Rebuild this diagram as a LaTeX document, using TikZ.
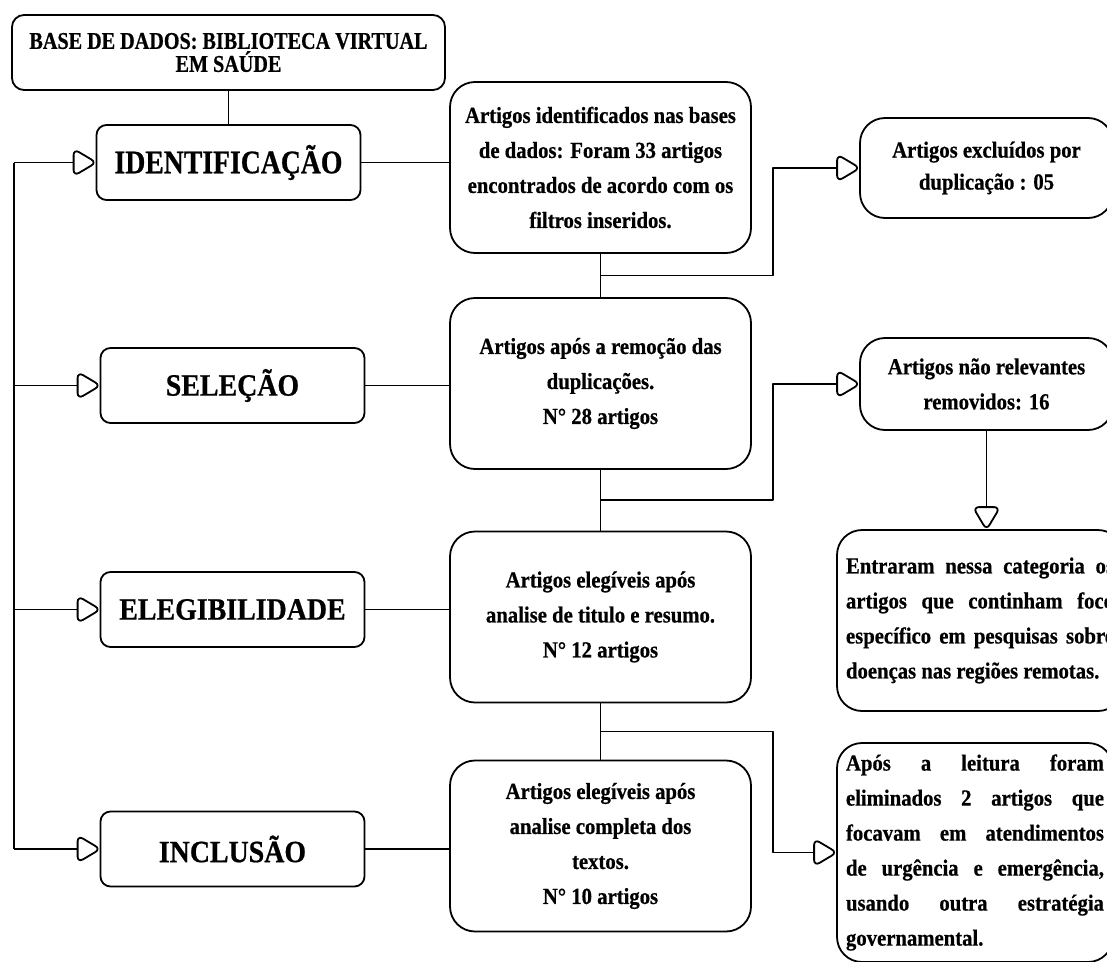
\documentclass[tikz,border=0pt]{standalone}
\usepackage{fontspec}
\usetikzlibrary{arrows.meta}
\newfontfamily\narrowfont{Liberation Serif}[FakeStretch=0.9, FakeBold=0.6]
\newfontfamily\tightfont{Liberation Serif}[FakeStretch=0.84, FakeBold=0.6]
\hyphenpenalty=10000
\tolerance=10000
\hbadness=10000

\pgfdeclarearrow{
  name = Bubble,
  parameters = {\the\pgfarrowlength,\the\pgfarrowwidth},
  setup code = {
    \pgfarrowssettipend{\pgfarrowlength}
    \pgfarrowssetlineend{0pt}
    \pgfarrowssetbackend{0pt}
    \pgfarrowsupperhullpoint{0pt}{.5\pgfarrowwidth}
    \pgfarrowsupperhullpoint{\pgfarrowlength}{0pt}
    \pgfarrowssavethe\pgfarrowlength
    \pgfarrowssavethe\pgfarrowwidth
  },
  drawing code = {
    \pgfsetdash{}{0pt}
    \pgfsetroundjoin
    \pgfpathmoveto{\pgfpoint{0pt}{0pt}}
    \pgfpathlineto{\pgfpoint{0pt}{7.5pt}}
    \pgfpathcurveto{\pgfpoint{0pt}{10.8pt}}{\pgfpoint{2.3pt}{12.1pt}}{\pgfpoint{5.2pt}{10.5pt}}
    \pgfpathlineto{\pgfpoint{17.8pt}{3pt}}
    \pgfpathcurveto{\pgfpoint{20.7pt}{1.4pt}}{\pgfpoint{20.7pt}{-1.4pt}}{\pgfpoint{17.8pt}{-3pt}}
    \pgfpathlineto{\pgfpoint{5.2pt}{-10.5pt}}
    \pgfpathcurveto{\pgfpoint{2.3pt}{-12.1pt}}{\pgfpoint{0pt}{-10.8pt}}{\pgfpoint{0pt}{-7.5pt}}
    \pgfpathclose
    \pgfusepathqstroke
  },
  defaults = {length = 22pt, width = 27pt}
}

\tikzset{
  flow/.style={line width=1.8pt, line join=round},
  into/.style={-{Bubble}},
  sourcebox/.style={draw, flow, rounded corners=12pt, minimum width=433pt, minimum height=75pt, inner sep=0pt, align=center, font=\tightfont\bfseries\fontsize{24pt}{23pt}\selectfont},
  phase/.style={draw, flow, rounded corners=10pt, minimum width=264pt, minimum height=75pt, inner sep=0pt, font=\narrowfont\bfseries\fontsize{31pt}{31pt}\selectfont},
  stage/.style={draw, flow, rounded corners=25pt, minimum width=301pt, minimum height=171pt, inner sep=0pt, align=center, font=\narrowfont\bfseries\fontsize{23pt}{35pt}\selectfont},
  outcome/.style={draw, flow, rounded corners=25pt, minimum width=253pt, inner sep=0pt, align=center, font=\narrowfont\bfseries\fontsize{23pt}{35pt}\selectfont},
  note/.style={draw, flow, rounded corners=25pt, inner xsep=9pt, inner ysep=0pt, align=justify, font=\narrowfont\bfseries\fontsize{23pt}{35pt}\selectfont}
}

\begin{document}
\begin{tikzpicture}[x=1pt, y=-1pt]
\useasboundingbox (0,0) rectangle (1107,961);
\clip (0,0) rectangle (1107,961);

\node[sourcebox] (base) at (228.5,52.5) {BASE DE DADOS: BIBLIOTECA VIRTUAL\\EM SAÚDE};
\node[phase, font=\tightfont\bfseries\fontsize{33pt}{33pt}\selectfont] (ident) at (228.5,162.5) {IDENTIFICAÇÃO};
\node[phase] (sel) at (232.5,385.5) {SELEÇÃO};
\node[phase] (eleg) at (232.5,609.5) {ELEGIBILIDADE};
\node[phase] (incl) at (232.5,849) {INCLUSÃO};

\node[stage] (art1) at (600.5,167.5) {Artigos identificados nas bases\\de dados: Foram 33 artigos\\encontrados de acordo com os\\filtros inseridos.};
\node[stage] (art2) at (600.5,383.5) {Artigos após a remoção das\\duplicações.\\N° 28 artigos};
\node[stage] (art3) at (600.5,617) {Artigos elegíveis após\\analise de titulo e resumo.\\N° 12 artigos};
\node[stage] (art4) at (600.5,846) {Artigos elegíveis após\\analise completa dos\\textos.\\N° 10 artigos};

\node[outcome, minimum height=100pt, font=\narrowfont\bfseries\fontsize{23pt}{32pt}\selectfont] (excl) at (986.5,168) {Artigos excluídos por\\duplicação : 05};
\node[outcome, minimum height=92pt] (nrel) at (986.5,384) {Artigos não relevantes\\removidos: 16};
\node[note, text width=268pt, minimum height=181pt] (entr) at (980,620.5) {Entraram nessa categoria os\linebreak artigos que continham foco\linebreak específico em pesquisas sobre\linebreak doenças nas regiões remotas.};
\node[note, text width=258pt, minimum height=219pt] (apos) at (975,852.5) {Após a leitura foram\linebreak eliminados 2 artigos que\linebreak focavam em atendimentos\linebreak de urgência e emergência,\linebreak usando outra estratégia\linebreak governamental.};

\coordinate (bus) at (14,0);
\coordinate (jog) at (773,0);

\draw[flow] (base) -- (ident);
\draw[flow] (ident.west -| bus) -- (incl.west -| bus);
\foreach \n in {ident,sel,eleg,incl}
  \draw[flow, into] (\n.west -| bus) -- (\n.west);
\foreach \a/\b in {ident/art1,sel/art2,eleg/art3,incl/art4}
  \draw[flow] (\a.east) -- (\a.east -| \b.west);

\draw[flow] (art1) -- (art2);
\draw[flow] (art2) -- (art3);
\draw[flow] (art3) -- (art4);
\path (art1.south) -- coordinate[midway] (m1) (art2.north);
\path (art2.south) -- coordinate[midway] (m2) (art3.north);
\path (art3.south) -- coordinate[midway] (m3) (art4.north);
\draw[flow, into] (m1) -- (m1 -| jog) |- (excl.west);
\draw[flow, into] (m2) -- (m2 -| jog) |- (nrel.west);
\draw[flow, into] (m3) -- (m3 -| jog) |- (apos.west);
\draw[flow, into] (nrel.south) -- (nrel.south |- entr.north);
\end{tikzpicture}
\end{document}
